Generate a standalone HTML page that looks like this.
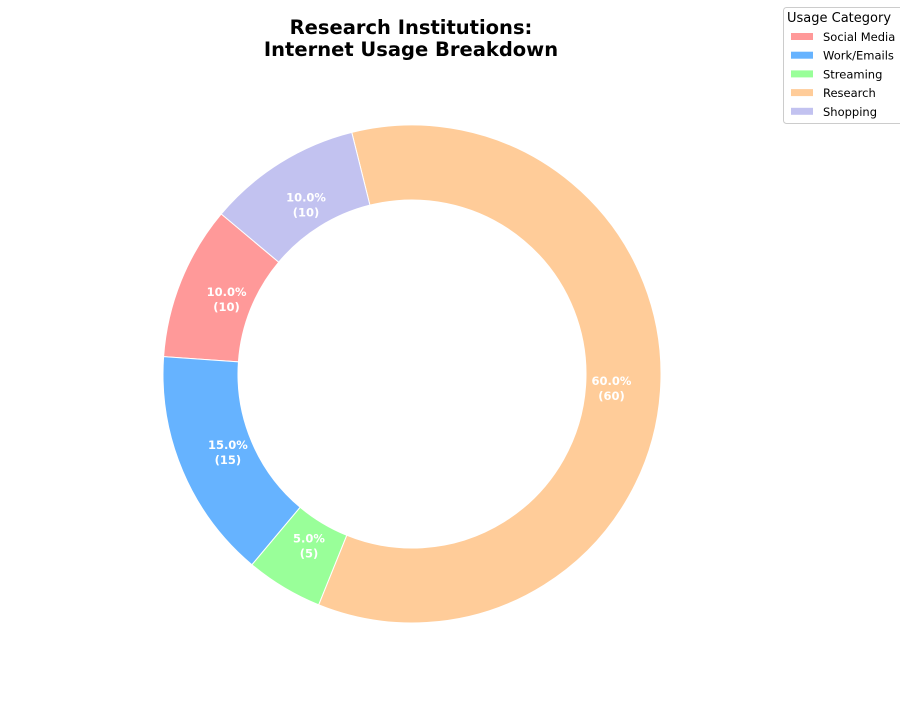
<!DOCTYPE html>
<html><head><meta charset="utf-8"><style>
body{margin:0;background:#fff;font-family:"DejaVu Sans","Liberation Sans",sans-serif}
</style></head><body>
<svg id="chart" width="900" height="700">
<text x="411" y="34" text-anchor="middle" font-size="19.5" font-weight="bold">Research Institutions:</text>
<text x="411" y="56" text-anchor="middle" font-size="19.5" font-weight="bold">Internet Usage Breakdown</text>
<g id="slices"></g>
<g>
<rect x="783.5" y="7.5" width="125" height="116" rx="3" fill="#fff" stroke="#ccc"/>
<text x="787" y="22" font-size="13">Usage Category</text>
<g id="legend"></g>
</g>
</svg>
<script>
const categories=["Social Media","Work/Emails","Streaming","Research","Shopping"];
const values=[10,15,5,60,10];
const colors=["#ff9999","#66b3ff","#99ff99","#ffcc99","#c2c2f0"];
const cx=412,cy=374,R=249,r=174,start=140;
const ns="http://www.w3.org/2000/svg";
const total=values.reduce((a,b)=>a+b,0);
const g=document.getElementById('slices');
let a=start;
function pt(rad,deg){const t=deg*Math.PI/180;return [cx+rad*Math.cos(t),cy-rad*Math.sin(t)];}
values.forEach((v,i)=>{
 const span=v/total*360,a2=a+span,large=span>180?1:0;
 const p1=pt(R,a),p2=pt(R,a2),p3=pt(r,a2),p4=pt(r,a);
 const p=document.createElementNS(ns,'path');
 p.setAttribute('d',`M${p1}A${R},${R} 0 ${large} 0 ${p2}L${p3}A${r},${r} 0 ${large} 1 ${p4}Z`);
 p.setAttribute('fill',colors[i]);p.setAttribute('stroke','#fff');p.setAttribute('stroke-width','1');
 
 
 g.appendChild(p);
 const m=pt(200,(a+a2)/2);
 const t=document.createElementNS(ns,'text');
 t.setAttribute('x',m[0]);t.setAttribute('y',m[1]-3);t.setAttribute('text-anchor','middle');
 t.setAttribute('fill','#fff');t.setAttribute('font-size','11.5');t.setAttribute('font-weight','bold');
 t.innerHTML=`<tspan x="${m[0]}">${(v/total*100).toFixed(1)}%</tspan><tspan x="${m[0]}" dy="15">(${v})</tspan>`;
 
 
 g.appendChild(t);
 a=a2;
});
const lg=document.getElementById('legend');
categories.forEach((c,i)=>{
 const y=37+i*18.7;
 const rc=document.createElementNS(ns,'rect');
 rc.setAttribute('x',791);rc.setAttribute('y',y-4);rc.setAttribute('width',22);rc.setAttribute('height',7);rc.setAttribute('fill',colors[i]);
 
 
 lg.appendChild(rc);
 const t=document.createElementNS(ns,'text');
 t.setAttribute('x',823);t.setAttribute('y',y+4);t.setAttribute('font-size','11.5');t.textContent=c;
 
 
 lg.appendChild(t);
});
</script>
</body></html>
